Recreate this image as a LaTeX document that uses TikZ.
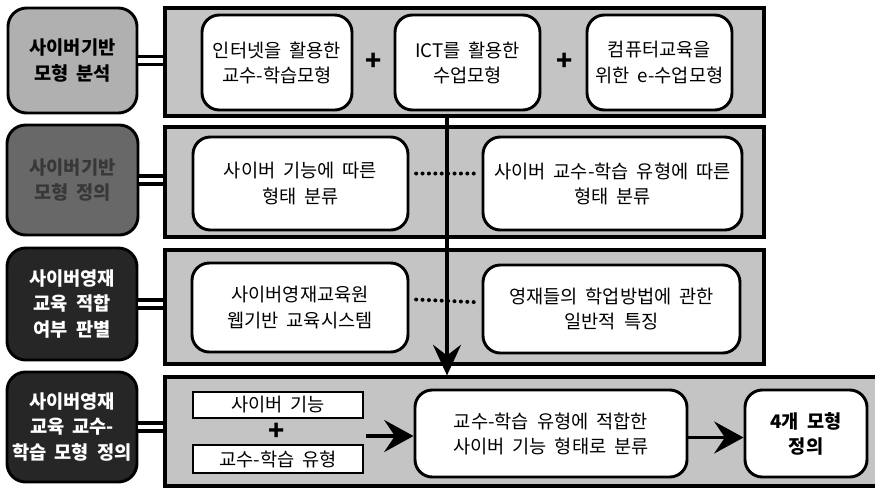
\documentclass[tikz,border=0pt]{standalone}
\usepackage{fontspec}
\setmainfont{Noto Sans CJK KR}[WordSpace=1.9]
\usetikzlibrary{arrows.meta,calc}
\definecolor{panelgray}{HTML}{C4C4C4}
\definecolor{lgray}{HTML}{B0B0B0}
\definecolor{dgray}{HTML}{686868}
\definecolor{dtext}{HTML}{383838}
\definecolor{vdark}{HTML}{262626}
\tikzset{
  lbox/.style={draw=black, line width=2.2pt, rounded corners=14pt, align=center,
    font=\bfseries\fontsize{14}{18.8}\selectfont, inner sep=0pt},
  panel/.style={draw=black, line width=2.3pt, fill=panelgray, inner sep=0pt},
  ibox/.style={draw=black, line width=2.2pt, fill=white, rounded corners=13pt, align=center,
    font=\fontsize{14}{18.8}\selectfont, inner sep=0pt},
  rbox/.style={draw=black, line width=2.2pt, fill=white, align=center,
    font=\fontsize{14}{18.8}\selectfont, inner sep=0pt},
  plus/.style={font=\bfseries\fontsize{20}{20}\selectfont, inner sep=0pt},
  dbl/.style={double, double distance=3.5pt, line width=2.6pt},
  dots/.style={line width=3pt, line cap=round, dash pattern=on 0pt off 4.8pt},
  bigarrow/.style={line width=2.6pt, -{Stealth[length=23pt, width=21pt, inset=8pt]}},
  midarrow/.style={line width=2.6pt, -{Stealth[length=22pt, width=24pt, inset=8pt]}}
}
\begin{document}
\begin{tikzpicture}[x=0.75pt, y=-0.75pt]
\useasboundingbox (0,0) rectangle (875,487);
% panels
\node[panel, minimum width=599*0.75pt, minimum height=108*0.75pt] (P1) at (464.5,62) {};
\node[panel, minimum width=599*0.75pt, minimum height=110*0.75pt] (P2) at (464.5,182) {};
\node[panel, minimum width=599*0.75pt, minimum height=114*0.75pt] (P3) at (464.5,307) {};
\node[panel, minimum width=720*0.75pt, minimum height=109*0.75pt] (P4) at (525,431.5) {};
% left boxes
\node[lbox, fill=lgray, text=black, minimum width=129*0.75pt, minimum height=105*0.75pt] (L1) at (72.5,60.5) {사이버기반\\모형 분석};
\node[lbox, fill=dgray, text=dtext, minimum width=131*0.75pt, minimum height=110*0.75pt] (L2) at (72.5,180) {사이버기반\\모형 정의};
\node[lbox, fill=vdark, text=white, minimum width=130*0.75pt, minimum height=112*0.75pt] (L3) at (72,304) {사이버영재\\교육 적합\\여부 판별};
\node[lbox, fill=vdark, text=white, minimum width=130*0.75pt, minimum height=110*0.75pt] (L4) at (72,427) {사이버영재\\교육 교수-\\학습 모형 정의};
% double connectors
\draw[dbl] (L1.east) -- (L1.east -| P1.west);
\draw[dbl] (L2.east) -- (L2.east -| P2.west);
\draw[dbl] (L3.east) -- (L3.east -| P3.west);
\draw[dbl] (L4.east) -- (L4.east -| P4.west);
% row 1
\node[ibox, minimum width=150*0.75pt, minimum height=95*0.75pt] (a1) at (277,62.5) {인터넷을 활용한\\교수-학습모형};
\node[ibox, minimum width=145*0.75pt, minimum height=95*0.75pt] (a2) at (467.5,62.5) {ICT를 활용한\\수업모형};
\node[ibox, minimum width=145*0.75pt, minimum height=95*0.75pt] (a3) at (659.5,62.5) {컴퓨터교육을\\위한 e-수업모형};
\node[plus] (p1) at (374,62) {+};
\node[plus] (p2) at (565,62) {+};
% vertical arrow
\coordinate (vtop) at (447,116);
\draw[bigarrow] (vtop) -- (vtop |- P4.north);
% row 2
\node[ibox, minimum width=215*0.75pt, minimum height=93*0.75pt] (b1) at (300.5,183.5) {사이버 기능에 따른\\형태 분류};
\node[ibox, minimum width=259*0.75pt, minimum height=93*0.75pt] (b2) at (612.5,183.5) {사이버 교수-학습 유형에 따른\\형태 분류};
\draw[dots] ([yshift=7.5pt,xshift=5pt]b1.east) -- ([yshift=7.5pt,xshift=-2pt]b2.west);
% row 3
\node[ibox, minimum width=216*0.75pt, minimum height=89*0.75pt] (c1) at (300,307.5) {사이버영재교육원\\웹기반 교육시스템};
\node[ibox, minimum width=257*0.75pt, minimum height=88*0.75pt] (c2) at (611.5,309) {영재들의 학업방법에 관한\\일반적 특징};
\draw[dots] ([yshift=6pt,xshift=5pt]c1.east) -- ([yshift=5pt,xshift=-2pt]c2.west);
% row 4
\node[rbox, minimum width=170*0.75pt, minimum height=26*0.75pt] (d1) at (278,405) {사이버 기능};
\node[rbox, minimum width=170*0.75pt, minimum height=28*0.75pt] (d2) at (278,459) {교수-학습 유형};
\node[plus] (p3) at (277,432) {+};
\node[ibox, minimum width=272*0.75pt, minimum height=87*0.75pt] (d3) at (551,433.5) {교수-학습 유형에 적합한\\사이버 기능 형태로 분류};
\node[ibox, font=\bfseries\fontsize{14}{18.8}\selectfont, minimum width=122*0.75pt, minimum height=87*0.75pt] (d4) at (806,433.5) {4개 모형\\정의};
\coordinate (dm) at ($(d1.east)!0.5!(d2.east)$);
\draw[midarrow] ([xshift=1.5pt,yshift=-3pt]dm) -- ([yshift=-3pt]dm -| d3.west);
\draw[midarrow] ([yshift=-3pt]d3.east) -- ([yshift=-3pt]d4.west);
\end{tikzpicture}
\end{document}
